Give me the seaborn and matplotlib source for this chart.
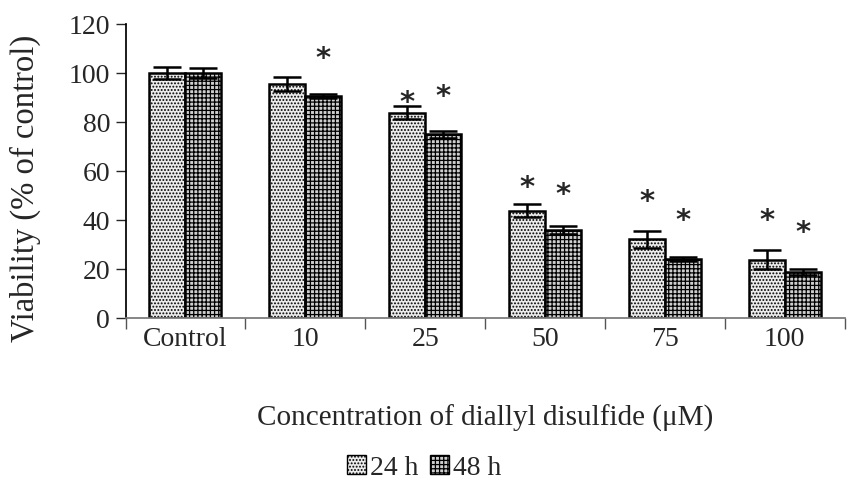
import matplotlib
matplotlib.use("Agg")

import matplotlib.pyplot as plt
import pandas as pd
import seaborn as sns
from matplotlib.patches import Patch

categories = ["Control", "10", "25", "50", "75", "100"]
times = ["24 h", "48 h"]
viab_24 = [100, 95.5, 83.7, 43.8, 32.0, 23.8]
viab_48 = [100, 90.5, 75.0, 35.8, 24.2, 18.6]
err_24 = [2.6, 2.8, 2.6, 2.7, 3.4, 3.8]
err_48 = [2.2, 0.8, 1.4, 1.6, 0.8, 1.3]
star_24 = [None, None, 88.0, 53.5, 47.5, 40.0]
star_48 = [None, 106.0, 90.5, 50.5, 40.0, 35.0]

df = pd.DataFrame({
    "conc": categories * 2,
    "time": [times[0]] * 6 + [times[1]] * 6,
    "viab": viab_24 + viab_48,
})

sns.set_theme(style="white")
plt.rcParams["font.family"] = ["Liberation Serif", "DejaVu Serif"]
plt.rcParams["hatch.linewidth"] = 0.9

fig, ax = plt.subplots(figsize=(8.48, 4.89), dpi=100)
sns.barplot(data=df, x="conc", y="viab", hue="time", order=categories,
            hue_order=times, width=0.6, errorbar=None, ax=ax,
            palette=["#e4e4e4", "#ffffff"], edgecolor="black", linewidth=1.8,
            legend=False)

styles = {times[0]: ("#ececec", "....."), times[1]: ("#cfcfcf", "++++")}
series = [(viab_24, err_24, star_24), (viab_48, err_48, star_48)]
for container, t, (vals, errs, stars) in zip(ax.containers, times, series):
    fc, hatch = styles[t]
    xs = []
    for bar in container:
        bar.set_facecolor(fc)
        bar.set_hatch(hatch)
        xs.append(bar.get_x() + bar.get_width() / 2)
    ax.errorbar(xs, vals, yerr=errs, fmt="none", ecolor="black",
                elinewidth=1.8, capsize=10, capthick=1.8, zorder=5)
    for x, s in zip(xs, stars):
        if s is not None:
            ax.text(x, s, "*", ha="center", va="center", fontsize=21,
                    family="DejaVu Sans", fontweight="bold")

ax.set_ylim(0, 120)
ax.set_xlim(-0.5, 5.5)
ax.set_yticks(range(0, 121, 20))
ax.tick_params(axis="y", left=True, length=7, width=1, labelsize=20, pad=4)
ax.set_xticks([i - 0.5 for i in range(7)], minor=True)
ax.tick_params(axis="x", which="major", bottom=False, length=0,
               labelsize=20, pad=6)
ax.tick_params(axis="x", which="minor", bottom=True, length=8, width=1,
               color="#555555")
for side in ["top", "right"]:
    ax.spines[side].set_visible(False)
ax.spines["left"].set_color("black")
ax.spines["bottom"].set_color("#777777")
ax.set_ylabel("Viability (% of control)", fontsize=23.5)
ax.yaxis.set_label_coords(-0.117, 0.445)
ax.set_xlabel("Concentration of diallyl disulfide (\u03bcM)", fontsize=21,
              labelpad=38)

handles = [Patch(facecolor=styles[t][0], hatch=styles[t][1], edgecolor="black",
                 label=t) for t in times]
fig.legend(handles=handles, loc="lower center", ncol=2, frameon=False,
           fontsize=20, handlelength=0.7, handleheight=0.7, handletextpad=0.15,
           columnspacing=0.4, bbox_to_anchor=(0.5, -0.035))

fig.subplots_adjust(left=0.148, right=0.996, top=0.949, bottom=0.348)
fig.savefig("out.png", dpi=100)
